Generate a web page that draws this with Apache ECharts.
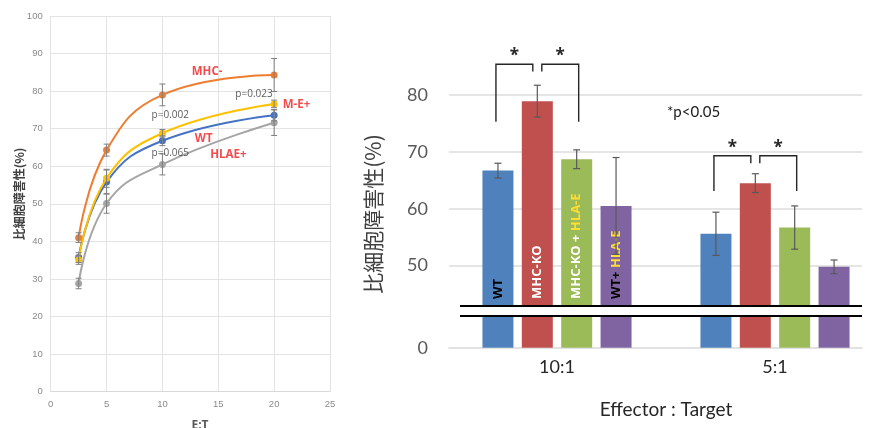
<!DOCTYPE html>
<html><head><meta charset="utf-8">
<script src="https://cdn.jsdelivr.net/npm/echarts@6/dist/echarts.min.js"></script>
<style>html,body{margin:0;padding:0;background:#fff}#c{width:874px;height:428px}</style>
</head><body><div id="c"></div>
<script>
// ===== Left chart data (E:T curve) =====
const etRatios = [2.5, 5, 10, 20];
const lineNames = ['MHC-', 'M-E+', 'WT', 'HLAE+'];
const mhcMinusVals = [41.0, 64.3, 79.0, 84.3];
const mhcMinusErrs = [1.3, 1.6, 2.9, 4.4];
const meVals = [35.1, 56.8, 68.8, 76.6];
const meErrs = [1.2, 2.4, 1.0, 1.0];
const wtLineVals = [35.7, 55.8, 66.8, 73.6];
const wtLineErrs = [1.3, 3.2, 1.3, 1.5];
const hlaeVals = [28.8, 50.1, 60.5, 71.6];
const hlaeErrs = [1.4, 2.6, 2.8, 3.4];
const pValueTexts = ['p=0.002', 'p=0.065', 'p=0.023'];

// ===== Right chart data (bar chart) =====
const ratioCats = ['10:1', '5:1'];
const groupNames = ['WT', 'MHC-KO', 'MHC-KO + HLA-E', 'WT+ HLA-E'];
const wtVals = [66.7, 55.6];
const wtErrs = [1.3, 3.8];
const koVals = [78.9, 64.5];
const koErrs = [2.8, 1.65];
const koEVals = [68.7, 56.7];
const koEErrs = [1.65, 3.8];
const wtEVals = [60.5, 49.8];
const wtEErrs = [8.5, 1.2];
const rightYTicks = [50, 60, 70, 80];
// significance brackets: [category, barFrom, barTo, yFrom, yTop, yTo]
const brackets = [
  [0, 0, 1, 75.3, 85.4, 84.1],
  [0, 1, 2, 84.1, 85.4, 75.3],
  [1, 0, 1, 63.1, 69.3, 68.0],
  [1, 1, 2, 68.0, 69.3, 63.1]
];
const sigNote = '*p<0.05';

// ===== styling / layout =====
const lineColors = ['#ED7D31', '#FFC000', '#4472C4', '#A5A5A5'];
const barColors = ['#4F81BD', '#C0504D', '#9BBB59', '#8064A2'];
const BAR_W = 31, BAR_GAP = 0.27, SPACING = BAR_W * (1 + BAR_GAP);
const RED = '#F01E1E';
const YEL = '#FFDD33';

const chart = echarts.init(document.getElementById('c'));

const lineSets = [
  [mhcMinusVals, mhcMinusErrs],
  [meVals, meErrs],
  [wtLineVals, wtLineErrs],
  [hlaeVals, hlaeErrs]
];
const barSets = [[wtVals, wtErrs], [koVals, koErrs], [koEVals, koEErrs], [wtEVals, wtEErrs]];

// annotation positions (in data coordinates of the left chart)
const leftNotes = [
  { t: lineNames[0], x: 14.0, y: 85.2, c: RED, b: true },
  { t: lineNames[1], x: 22.0, y: 76.5, c: RED, b: true },
  { t: lineNames[2], x: 13.7, y: 67.4, c: RED, b: true },
  { t: lineNames[3], x: 15.9, y: 63.2, c: RED, b: true },
  { t: pValueTexts[0], x: 10.7, y: 73.6, c: '#333', b: false },
  { t: pValueTexts[1], x: 10.7, y: 63.5, c: '#333', b: false },
  { t: pValueTexts[2], x: 18.2, y: 79.2, c: '#333', b: false }
];

const barLabelRich = [
  '{k|WT}',
  '{w|MHC-KO}',
  '{w|MHC-KO + }{y|HLA-E}',
  '{k|WT+ }{y|HLA-E}'
];

const series = [];

// left lines
lineSets.forEach((s, i) => {
  series.push({
    type: 'line', name: lineNames[i], xAxisIndex: 0, yAxisIndex: 0,
    data: etRatios.map((x, j) => [x, s[0][j]]),
    smooth: 0.45, symbol: 'circle', symbolSize: 7,
    itemStyle: { color: lineColors[i] },
    lineStyle: { color: lineColors[i], width: 2 },
    z: 3 + (3 - i)
  });
});
// left error bars
series.push({
  type: 'custom', xAxisIndex: 0, yAxisIndex: 0, z: 10,
  data: lineSets.flatMap(s => etRatios.map((x, j) => [x, s[0][j], s[1][j]])),
  encode: { x: 0, y: 1 },
  renderItem: (p, api) => {
    const x = api.value(0), v = api.value(1), e = api.value(2);
    const a = api.coord([x, v + e]), b = api.coord([x, v - e]);
    const st = { stroke: '#7f7f7f', lineWidth: 1 };
    return { type: 'group', children: [
      { type: 'line', shape: { x1: a[0], y1: a[1], x2: b[0], y2: b[1] }, style: st },
      { type: 'line', shape: { x1: a[0] - 3, y1: a[1], x2: a[0] + 3, y2: a[1] }, style: st },
      { type: 'line', shape: { x1: b[0] - 3, y1: b[1], x2: b[0] + 3, y2: b[1] }, style: st }
    ]};
  }
});
// left annotations
series.push({
  type: 'scatter', xAxisIndex: 0, yAxisIndex: 0, symbolSize: 0, z: 20,
  data: leftNotes.map(n => ({
    value: [n.x, n.y],
    label: { show: true, position: 'inside', formatter: n.t, color: n.c,
      fontWeight: n.b ? 'bold' : 'normal', fontSize: n.b ? 11.5 : 10,
      fontFamily: 'Open Sans' }
  }))
});

// right bars (upper & lower parts)
const labelFont = { fontWeight: 'bold', fontSize: 13, fontFamily: 'Open Sans' };
barSets.forEach((s, i) => {
  series.push({
    type: 'bar', name: groupNames[i], xAxisIndex: 2, yAxisIndex: 2,
    data: s[0], barWidth: BAR_W, barGap: (BAR_GAP * 100) + '%', clip: true,
    itemStyle: { color: barColors[i] },
    label: {
      show: true, position: 'insideBottom', rotate: 90, align: 'left', verticalAlign: 'middle',
      distance: 7,
      formatter: p => p.dataIndex === 0 ? barLabelRich[i] : '',
      rich: {
        k: Object.assign({ color: '#000' }, labelFont),
        w: Object.assign({ color: '#fff' }, labelFont),
        y: Object.assign({ color: YEL }, labelFont)
      }
    }
  });
  series.push({
    type: 'bar', name: groupNames[i] + ' ', xAxisIndex: 4, yAxisIndex: 4,
    data: s[0], barWidth: BAR_W, barGap: (BAR_GAP * 100) + '%', clip: true,
    itemStyle: { color: barColors[i] }
  });
});
// right error bars
series.push({
  type: 'custom', xAxisIndex: 2, yAxisIndex: 2, z: 10,
  data: barSets.flatMap((s, i) => ratioCats.map((c, j) => [j, i, s[0][j], s[1][j]])),
  encode: { x: 0, y: 2 },
  renderItem: (p, api) => {
    const c = api.value(0), bi = api.value(1), v = api.value(2), e = api.value(3);
    const a = api.coord([c, v + e]), b = api.coord([c, v - e]);
    const x = a[0] + (bi - 1.5) * SPACING;
    const st = { stroke: '#595959', lineWidth: 1.2 };
    return { type: 'group', children: [
      { type: 'line', shape: { x1: x, y1: a[1], x2: x, y2: b[1] }, style: st },
      { type: 'line', shape: { x1: x - 3.5, y1: a[1], x2: x + 3.5, y2: a[1] }, style: st },
      { type: 'line', shape: { x1: x - 3.5, y1: b[1], x2: x + 3.5, y2: b[1] }, style: st }
    ]};
  }
});
// significance brackets
series.push({
  type: 'custom', xAxisIndex: 2, yAxisIndex: 2, z: 10, clip: false,
  data: brackets,
  encode: { x: 0, y: 4 },
  renderItem: (p, api) => {
    const c = api.value(0), f = api.value(1), t = api.value(2);
    const pf = api.coord([c, api.value(3)]), pt = api.coord([c, api.value(4)]), pe = api.coord([c, api.value(5)]);
    const xf = pf[0] + (f - 1.5) * SPACING + (f === 1 ? 4.5 : -2);
    const xt = pf[0] + (t - 1.5) * SPACING + (t === 1 ? -4.5 : 2);
    const st = { stroke: '#262626', lineWidth: 1.4, fill: null };
    return { type: 'group', children: [
      { type: 'polyline', shape: { points: [[xf, pf[1]], [xf, pt[1]], [xt, pt[1]], [xt, pe[1]]] }, style: st },
      { type: 'text', x: (xf + xt) / 2, y: pt[1] - 8,
        style: { text: '*', fill: '#262626', fontSize: 17, fontWeight: 'bold', fontFamily: 'Open Sans', align: 'center', verticalAlign: 'middle' } }
    ]};
  }
});

const grayAxisLabel = { color: '#595959', fontSize: 18, fontFamily: 'Lato' };

const option = {
  animation: false,
  backgroundColor: '#fff',
  grid: [
    { left: 50.7, right: 544, top: 16, bottom: 36.3, outerBoundsMode: 'none' },
    { left: 449, right: 12, top: 38, bottom: 105.4, outerBoundsMode: 'none' },
    { left: 448, width: 436, top: 38, bottom: 122, outerBoundsMode: 'none' },
    { left: 449, right: 12, top: 316, bottom: 80.3, outerBoundsMode: 'none' },
    { left: 448, width: 436, top: 316, bottom: 80.3, outerBoundsMode: 'none' }
  ],
  xAxis: [
    { type: 'value', gridIndex: 0, min: 0, max: 25, interval: 5,
      axisLine: { show: true, lineStyle: { color: '#d9d9d9' } }, axisTick: { show: false },
      splitLine: { show: true, lineStyle: { color: '#e3e3e3' } },
      axisLabel: { color: '#8a8a8a', fontSize: 9.5, margin: 8, fontFamily: 'Liberation Sans' } },
    { type: 'value', gridIndex: 1, min: 0, max: 1, show: false },
    { type: 'category', gridIndex: 2, data: ratioCats, show: false },
    { type: 'value', gridIndex: 3, min: 0, max: 1, show: true,
      axisLine: { show: true, lineStyle: { color: '#d9d9d9', width: 1.5 } },
      axisTick: { show: false }, axisLabel: { show: false }, splitLine: { show: false } },
    { type: 'category', gridIndex: 4, data: ratioCats,
      axisLine: { show: false }, axisTick: { show: false },
      axisLabel: { color: '#262626', fontSize: 18, fontFamily: 'Lato', margin: 10 },
      name: 'Effector : Target', nameLocation: 'middle', nameGap: 53,
      nameTextStyle: { color: '#262626', fontSize: 19, fontFamily: 'Lato' } }
  ],
  yAxis: [
    { type: 'value', gridIndex: 0, min: 0, max: 100, interval: 10,
      axisLine: { show: false }, axisTick: { show: false },
      splitLine: { show: true, lineStyle: { color: '#e3e3e3' } },
      axisLabel: { color: '#8a8a8a', fontSize: 9.5, margin: 8, fontFamily: 'Liberation Sans' } },
    { type: 'value', gridIndex: 1, min: 40, max: 90, interval: 10,
      axisLine: { show: false }, axisTick: { show: false },
      splitLine: { show: true, showMinLine: false, showMaxLine: false, lineStyle: { color: '#dcdcdc', width: 1.5 } },
      axisLabel: Object.assign({ margin: 21, formatter: v => rightYTicks.includes(v) ? String(v) : '' }, grayAxisLabel) },
    { type: 'value', gridIndex: 2, min: 90 - 268 / 5.692, max: 90, show: false },
    { type: 'value', gridIndex: 3, min: 0, max: 31.7 / 5.692,
      axisLine: { show: false }, axisTick: { show: false }, splitLine: { show: false },
      axisLabel: Object.assign({ margin: 21, formatter: v => v === 0 ? '0' : '' }, grayAxisLabel) },
    { type: 'value', gridIndex: 4, min: 0, max: 31.7 / 5.692, show: false }
  ],
  series: series,
  graphic: [
    { type: 'text', x: 19, y: 194, rotation: Math.PI / 2, z: 50,
      style: { text: '比細胞障害性(%)', fill: '#404040', fontSize: 12, fontWeight: 'bold', fontFamily: 'Noto Sans CJK JP', align: 'center', verticalAlign: 'middle' } },
    { type: 'text', x: 200, y: 420, z: 50,
      style: { text: 'E:T', fill: '#595959', fontSize: 12, fontWeight: 'bold', fontFamily: 'Open Sans', align: 'center', verticalAlign: 'top' } },
    { type: 'text', x: 373, y: 214, rotation: Math.PI / 2, z: 50,
      style: { text: '比細胞障害性(%)', fill: '#404040', fontSize: 21, fontFamily: 'Noto Sans CJK JP', align: 'center', verticalAlign: 'middle' } },
    { type: 'text', x: 667, y: 112, z: 50,
      style: { text: sigNote, fill: '#1a1a1a', fontSize: 15, fontFamily: 'Lato', align: 'left', verticalAlign: 'middle' } },
    { type: 'line', z: 60, shape: { x1: 460, y1: 306, x2: 862, y2: 306 }, style: { stroke: '#000', lineWidth: 2 } },
    { type: 'line', z: 60, shape: { x1: 460, y1: 316, x2: 862, y2: 316 }, style: { stroke: '#000', lineWidth: 2 } }
  ]
};
chart.setOption(option);
</script>
</body></html>
